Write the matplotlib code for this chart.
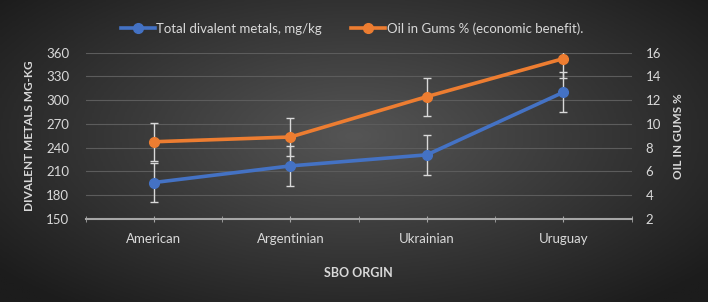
import numpy as np
import matplotlib
matplotlib.use('Agg')
import matplotlib.pyplot as plt
from matplotlib.lines import Line2D

plt.rcParams['font.family'] = ['Lato', 'DejaVu Sans']

origins = ['American', 'Argentinian', 'Ukrainian', 'Uruguay']
metals = [196, 217, 231, 310]
metals_err = [25, 25, 25, 25]
oil = [8.5, 8.9, 12.3, 15.5]
oil_err = [1.6, 1.6, 1.6, 1.6]

blue = '#4472C4'
orange = '#ED7D31'
txt = '#d9d9d9'

fig = plt.figure(figsize=(7.08, 3.02), dpi=100)

# dark radial background
bg = fig.add_axes([0, 0, 1, 1], zorder=-10)
xx, yy = np.meshgrid(np.linspace(-1, 1, 400), np.linspace(-1, 1, 200))
r = np.sqrt(xx**2 + ((yy + 0.1) * 0.9)**2)
bg.imshow(r, cmap=matplotlib.colors.LinearSegmentedColormap.from_list('bg', ['#555555', '#1c1c1c']),
          vmin=0, vmax=1.3, aspect='auto', extent=[0, 1, 0, 1])
bg.axis('off')

ax = fig.add_axes([0.121, 0.275, 0.771, 0.5505])
ax.patch.set_alpha(0)
ax2 = ax.twinx()

x = np.arange(len(origins))

ax.errorbar(x, metals, yerr=metals_err, color=blue, lw=2.6, marker='o', ms=7,
            ecolor=txt, elinewidth=1, capsize=3, capthick=1, zorder=3)
ax2.errorbar(x, oil, yerr=oil_err, color=orange, lw=2.6, marker='o', ms=7,
             ecolor=txt, elinewidth=1, capsize=3, capthick=1, zorder=3)

ax.set_xlim(-0.5, 3.5)
ax.set_ylim(150, 360)
ax.set_yticks(range(150, 361, 30))
ax2.set_ylim(2, 16)
ax2.set_yticks(range(2, 17, 2))

ax.set_xticks(x)
ax.set_xticklabels(origins)
ax.set_xticks(np.arange(-0.5, 3.6, 0.5), minor=True)

ax.grid(axis='y', color='#5c5c5c', lw=0.8)
ax.set_axisbelow(True)

for a in (ax, ax2):
    for s in a.spines.values():
        s.set_visible(False)
    a.tick_params(axis='y', length=0, colors=txt, labelsize=9.5)
ax.spines['bottom'].set_visible(True)
ax.spines['bottom'].set_color('#a6a6a6')
ax.spines['bottom'].set_linewidth(1.5)
ax.tick_params(axis='x', which='both', length=4, direction='inout', color='#a6a6a6',
               colors=txt, labelsize=9.5, pad=8)
ax.tick_params(axis='y', pad=12)
ax2.tick_params(axis='y', pad=10)

ax.set_xlabel('SBO ORGIN', color=txt, fontsize=9, fontweight='bold', labelpad=16)
ax.set_ylabel('DIVALENT METALS MG-KG', color=txt, fontsize=8.5, fontweight='bold', labelpad=8)
ax2.set_ylabel('OIL IN GUMS %', color=txt, fontsize=8.5, fontweight='bold', labelpad=9)

handles = [Line2D([], [], color=blue, lw=2.6, marker='o', ms=7),
           Line2D([], [], color=orange, lw=2.6, marker='o', ms=7)]
labels = ['Total divalent metals, mg/kg', 'Oil in Gums % (economic benefit).']
fig.legend(handles, labels, loc='center', bbox_to_anchor=(0.497, 0.905), ncol=2,
           frameon=False, fontsize=9.5, labelcolor=txt, handlelength=2.6,
           handletextpad=0.1, columnspacing=2.2)

fig.savefig('out.png', dpi=100)
